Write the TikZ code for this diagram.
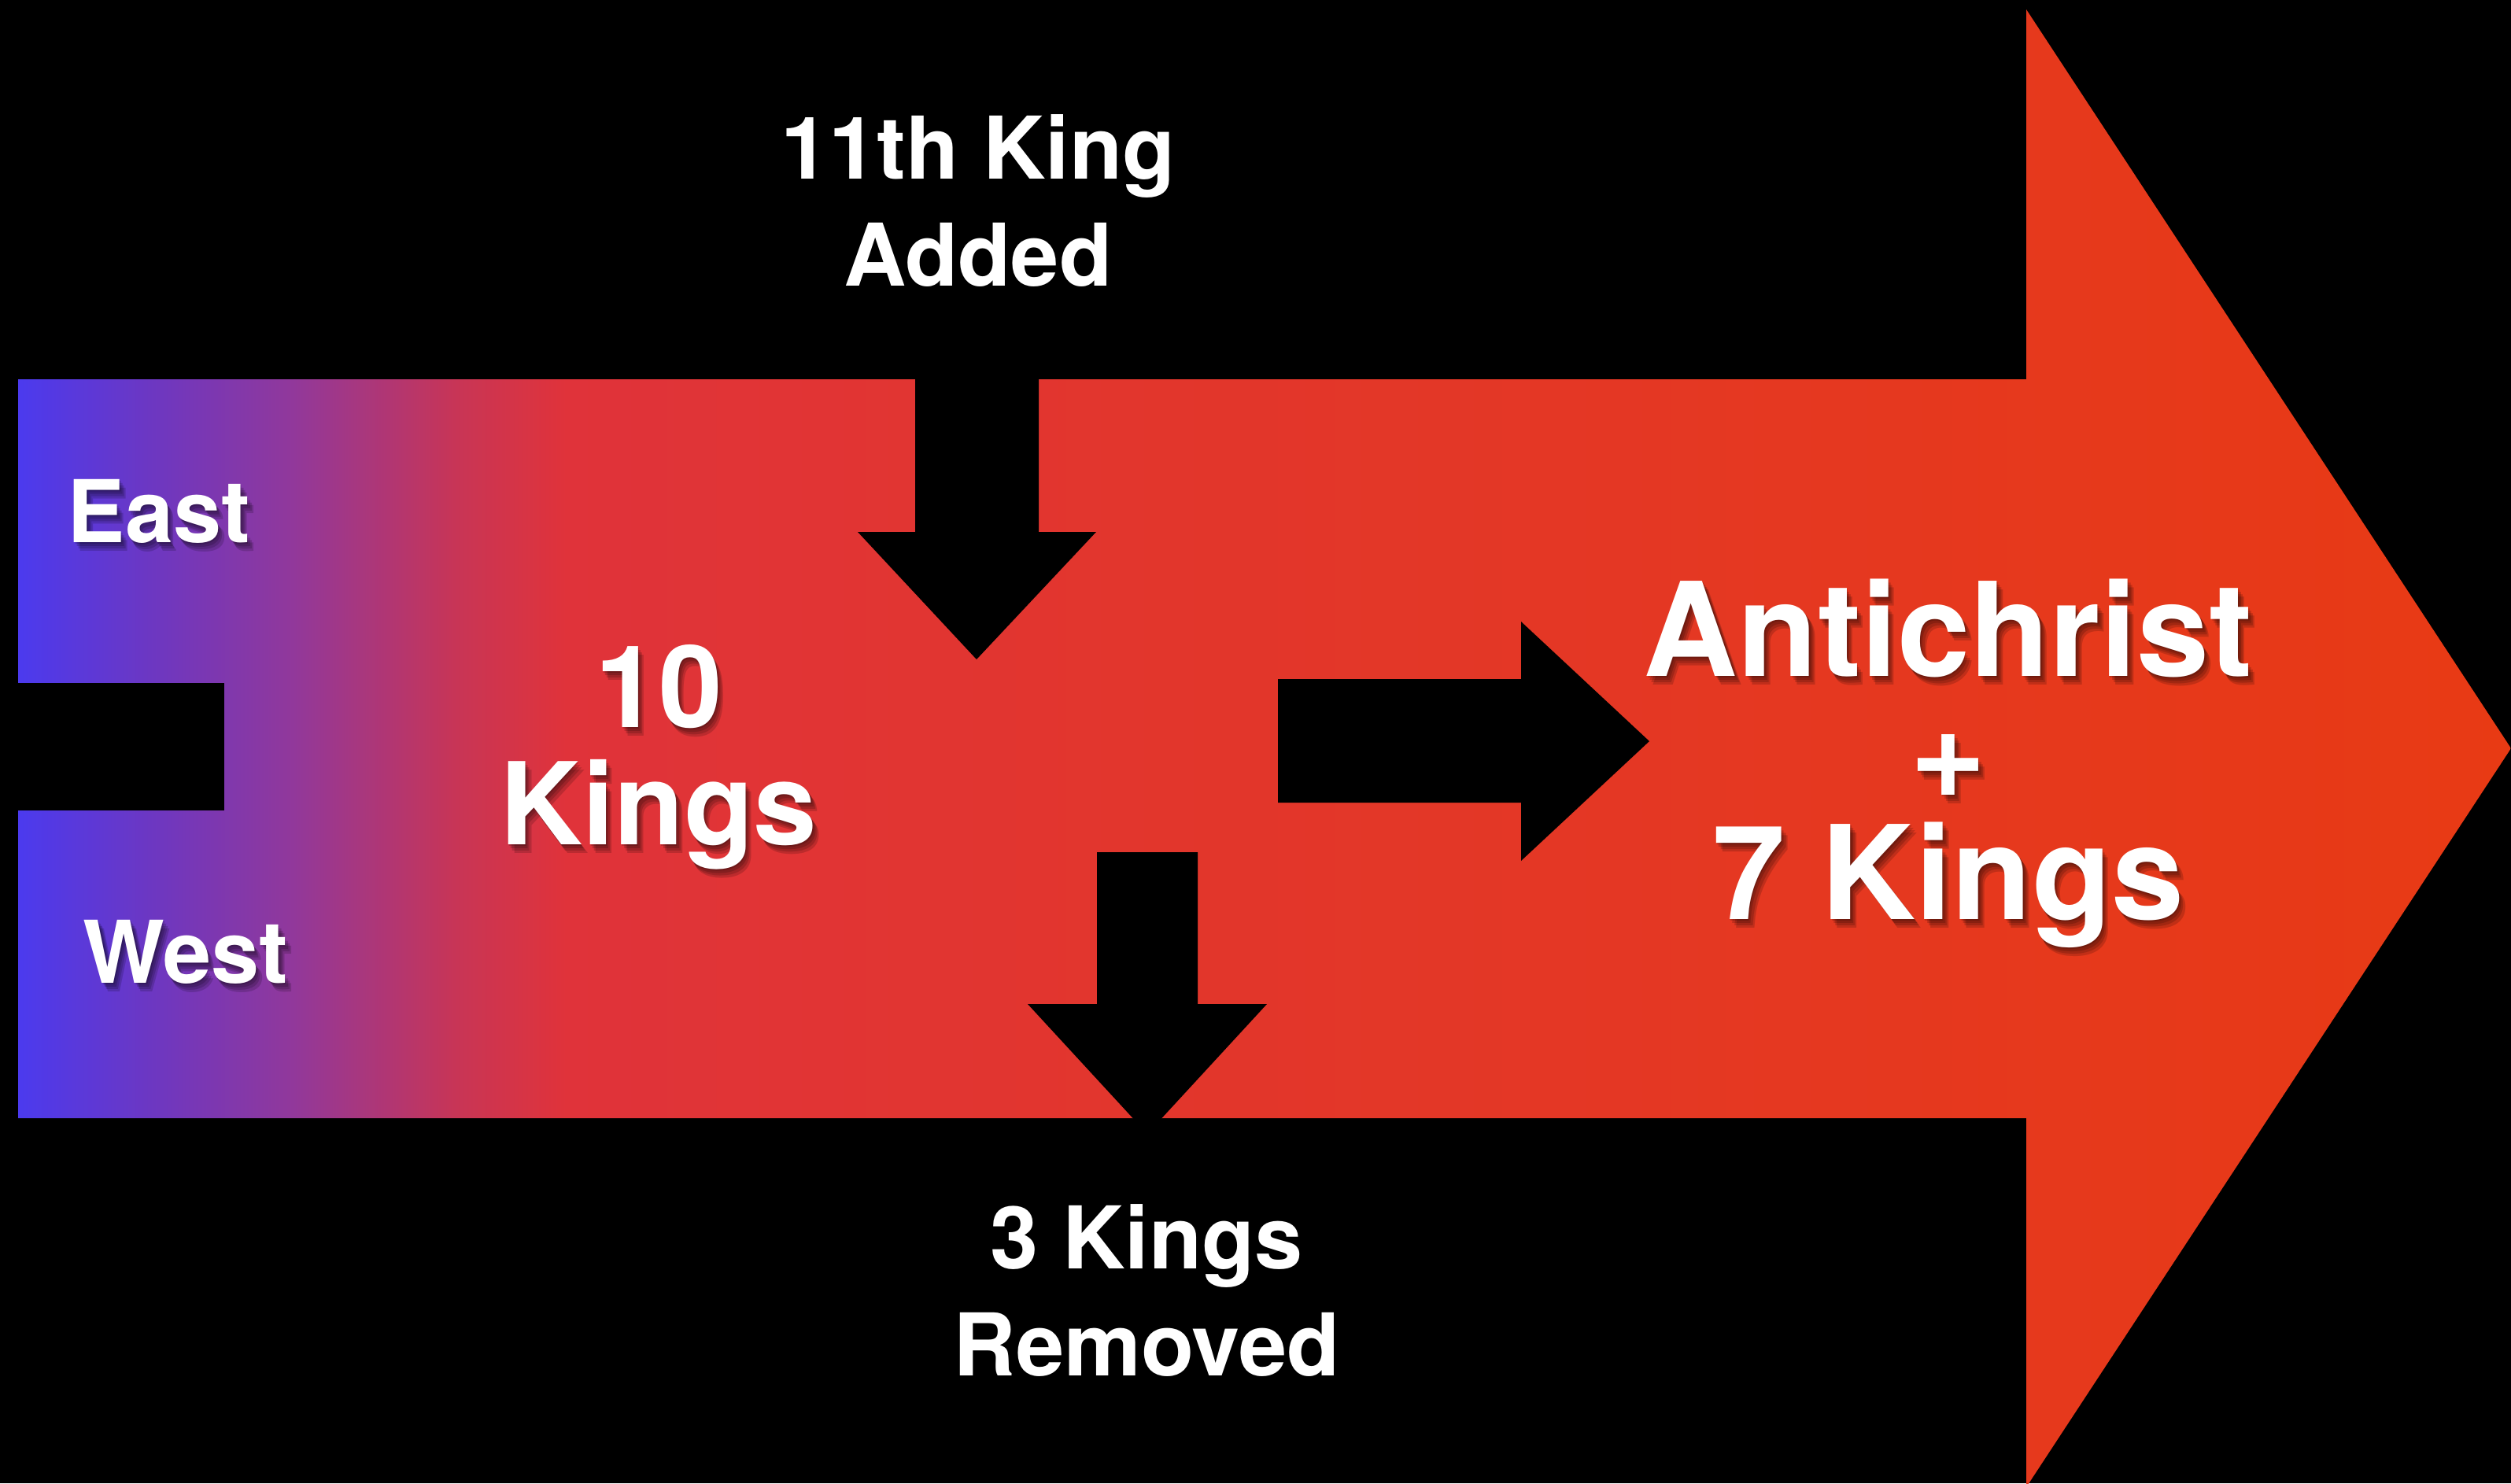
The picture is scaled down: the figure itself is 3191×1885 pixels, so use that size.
\documentclass[tikz,border=0pt]{standalone}
\usepackage{fontspec}
\setmainfont{TeX Gyre Heros}
\usetikzlibrary{calc}
\definecolor{kgblue}{RGB}{75,58,238}
\definecolor{kgviolet}{RGB}{110,55,192}
\definecolor{kgpurple}{RGB}{145,56,155}
\definecolor{kgmagenta}{RGB}{200,53,86}
\definecolor{kgred}{RGB}{224,51,58}
\definecolor{kgmid}{RGB}{226,54,44}
\definecolor{kgorange}{RGB}{232,58,20}
\pgfdeclarehorizontalshading{kinggrad}{100bp}{
  color(0bp)=(kgblue); color(25bp)=(kgblue);
  color(27.8bp)=(kgviolet); color(30.5bp)=(kgpurple);
  color(33.8bp)=(kgmagenta); color(36bp)=(kgred);
  color(48bp)=(kgmid); color(75bp)=(kgorange); color(100bp)=(kgorange)}
\tikzset{px/.style={
  x=0.1mm,
  y=-0.1mm
}}
\tikzset{lbl/.style={
  text=white,
  inner sep=0pt,
  align=center,
}}
\tikzset{lblsm/.style={lbl,font=\fontsize{31.3pt}{38.7pt}\selectfont\bfseries}}
\tikzset{lblmd/.style={lbl,font=\fontsize{41.3pt}{42.4pt}\selectfont\bfseries}}
\tikzset{lblbig/.style={lbl,font=\fontsize{47.2pt}{44pt}\selectfont\bfseries}}
\tikzset{cut/.style={fill=black}}
% label with a soft drop shadow: name, position, style, text
\newcommand{\shadowed}[4]{%
  \foreach \s in {2,5,8,11}
    \node[#3,text=black,opacity=0.16] at ($(#2)+(0.7*\s,\s)$) {#4};
  \node[#3] (#1) at (#2) {#4};
}

\begin{document}
\begin{tikzpicture}[px]
    \useasboundingbox (0,0) rectangle (3191,1885);
    \fill[black] (0,0) rectangle (3191,1885);

    % Big arrow
    \shade[shading=kinggrad] (23,482) -- (2575,482) -- (2575,12)
      -- (3191,951) -- (2575,1890) -- (2575,1421) -- (23,1421) -- cycle;

    % Black cut-outs
    \fill[cut] (0,868) rectangle (285,1030);
    \fill[cut] (1163,470) -- (1163,676) -- (1090,676) -- (1241,838)
      -- (1393,676) -- (1320,676) -- (1320,470) -- cycle;
    \fill[cut] (1394,1083) -- (1522,1083) -- (1522,1276) -- (1610,1276)
      -- (1458,1441) -- (1306,1276) -- (1394,1276) -- cycle;
    \fill[cut] (1624,863) -- (1933,863) -- (1933,790) -- (2096,942)
      -- (1933,1094) -- (1933,1020) -- (1624,1020) -- cycle;

    % Labels on black
    \node[lblsm] (added) at (1243,255) {11th King\\Added};
    \node[lblsm] (removed) at (1457,1640) {3 Kings\\Removed};

    % Labels on the arrow
    \coordinate (eastpos) at (202,650);
    \coordinate (westpos) at (236,1210);
    \coordinate (tenpos) at (837,962);
    \coordinate (antipos) at (2476,970);
    \shadowed{east}{eastpos}{lblsm}{East}
    \shadowed{west}{westpos}{lblsm}{West}
    \shadowed{ten}{tenpos}{lblmd}{10\\Kings}
    \shadowed{anti}{antipos}{lblbig}{Antichrist\\+\\7 Kings}

\end{tikzpicture}
\end{document}
